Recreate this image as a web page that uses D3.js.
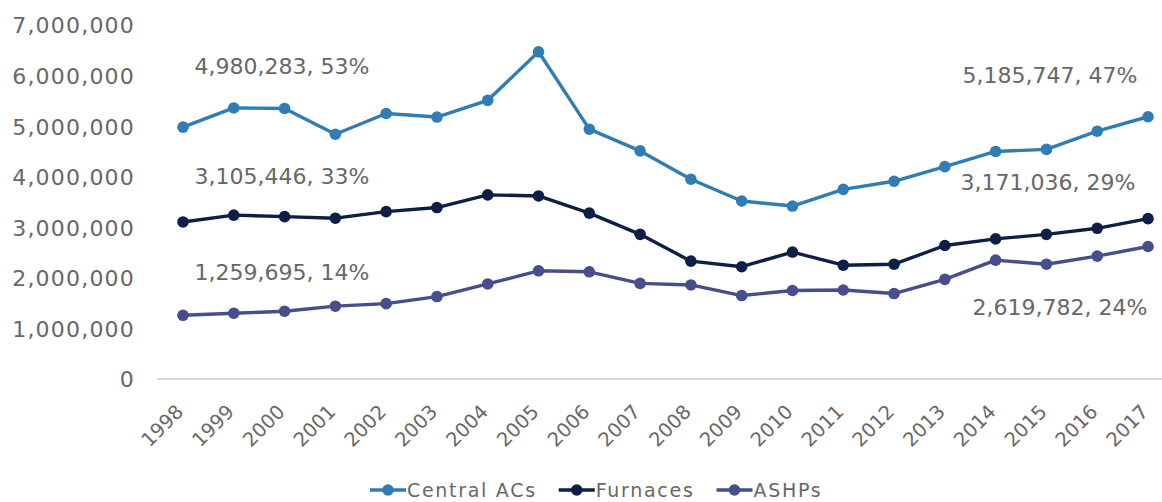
<!DOCTYPE html>
<html>
<head>
<meta charset="utf-8">
<script src="https://cdn.jsdelivr.net/npm/d3@7/dist/d3.min.js"></script>
<style>
  html, body { margin: 0; padding: 0; background: #ffffff; }
  svg { display: block; }
  text { font-family: "DejaVu Sans", sans-serif; fill: #676767; }
</style>
</head>
<body>
<svg id="chart" width="1162" height="502"></svg>
<script>
// ---- data ----
const years = ["1998","1999","2000","2001","2002","2003","2004","2005","2006","2007",
               "2008","2009","2010","2011","2012","2013","2014","2015","2016","2017"];
const centralACs = [4980283, 5360000, 5350000, 4840000, 5250000, 5180000, 5510000, 6470000, 4940000, 4510000,
                    3950000, 3520000, 3420000, 3750000, 3910000, 4200000, 4500000, 4540000, 4900000, 5185747];
const furnaces   = [3105446, 3240000, 3210000, 3180000, 3310000, 3390000, 3640000, 3620000, 3280000, 2860000,
                    2330000, 2220000, 2510000, 2250000, 2270000, 2640000, 2770000, 2860000, 2980000, 3171036];
const ashps      = [1259695, 1300000, 1340000, 1440000, 1490000, 1630000, 1880000, 2140000, 2120000, 1890000,
                    1860000, 1650000, 1750000, 1760000, 1690000, 1970000, 2350000, 2270000, 2430000, 2619782];
const seriesNames = ["Central ACs", "Furnaces", "ASHPs"];
const yTicks = [0, 1000000, 2000000, 3000000, 4000000, 5000000, 6000000, 7000000];
const endLabels = [
  { series: 0, index: 0,  text: "4,980,283, 53%" },
  { series: 1, index: 0,  text: "3,105,446, 33%" },
  { series: 2, index: 0,  text: "1,259,695, 14%" },
  { series: 0, index: 19, text: "5,185,747, 47%" },
  { series: 1, index: 19, text: "3,171,036, 29%" },
  { series: 2, index: 19, text: "2,619,782, 24%" }
];

// ---- styles / layout ----
const colors = ["#2f7db4", "#0e1f45", "#464e8b"];
const labelOffsets = [[99,-53],[99,-38],[99,-35],[-98,-34],[-100,-29],[-88,68]];

const seriesValues = [centralACs, furnaces, ashps];
const svg = d3.select("#chart");

const x = d3.scalePoint().domain(years).range([157.6, 1173.4]).padding(0.5);
const y = d3.scaleLinear().domain([0, 7000000]).range([379, 25]);

// baseline axis
svg.append("line")
  .attr("x1", 157).attr("x2", 1175)
  .attr("y1", y(0)).attr("y2", y(0))
  .attr("stroke", "#d9d9d9").attr("stroke-width", 2);

// y axis labels
const yAxis = d3.axisLeft(y).tickValues(yTicks).tickSize(0).tickPadding(0)
  .tickFormat(d3.format(","));
const yg = svg.append("g").attr("transform", "translate(135,0)").call(yAxis);
yg.select(".domain").remove();
yg.selectAll("text")
  .attr("font-family", "DejaVu Sans").attr("font-size", 22)
  .attr("letter-spacing", 1.2).attr("fill", "#676767")
  .attr("dy", "0.36em");

// x axis labels
const xAxis = d3.axisBottom(x).tickSize(0).tickPadding(0);
const xg = svg.append("g").attr("transform", `translate(0,${y(0)})`).call(xAxis);
xg.select(".domain").remove();
xg.selectAll("text")
  .attr("font-family", "DejaVu Sans").attr("font-size", 19.5)
  .attr("fill", "#6b6b6b")
  .attr("text-anchor", "end")
  .attr("y", 0).attr("dy", 0)
  .attr("transform", "translate(1,34) rotate(-45)");

// lines + markers
const line = d3.line().x((d, i) => x(years[i])).y(d => y(d));
seriesValues.forEach((vals, s) => {
  svg.append("path")
    .datum(vals)
    .attr("fill", "none")
    .attr("stroke", colors[s])
    .attr("stroke-width", 3.4)
    .attr("stroke-linejoin", "round")
    .attr("d", line);
  svg.append("g").selectAll("circle")
    .data(vals).join("circle")
    .attr("cx", (d, i) => x(years[i]))
    .attr("cy", d => y(d))
    .attr("r", 5.8)
    .attr("fill", colors[s]);
});

// data labels
endLabels.forEach((l, k) => {
  const v = seriesValues[l.series][l.index];
  svg.append("text")
    .attr("x", x(years[l.index]) + labelOffsets[k][0])
    .attr("y", y(v) + labelOffsets[k][1])
    .attr("text-anchor", "middle")
    .attr("font-size", 22)
    .text(l.text);
});

// legend
const legend = svg.append("g").attr("transform", "translate(370,490)");
let lx = 0;
seriesNames.forEach((name, s) => {
  const g = legend.append("g").attr("transform", `translate(${lx},0)`);
  g.append("line").attr("x1", 0).attr("x2", 36).attr("y1", 0).attr("y2", 0)
    .attr("stroke", colors[s]).attr("stroke-width", 3.4);
  g.append("circle").attr("cx", 18).attr("cy", 0).attr("r", 5.8).attr("fill", colors[s]);
  const t = g.append("text").attr("x", 37).attr("y", 0).attr("dy", "0.35em")
    .attr("font-size", 19).attr("letter-spacing", 1.7).text(name);
  lx += 37 + t.node().getComputedTextLength() + 22;
});
</script>
</body>
</html>
